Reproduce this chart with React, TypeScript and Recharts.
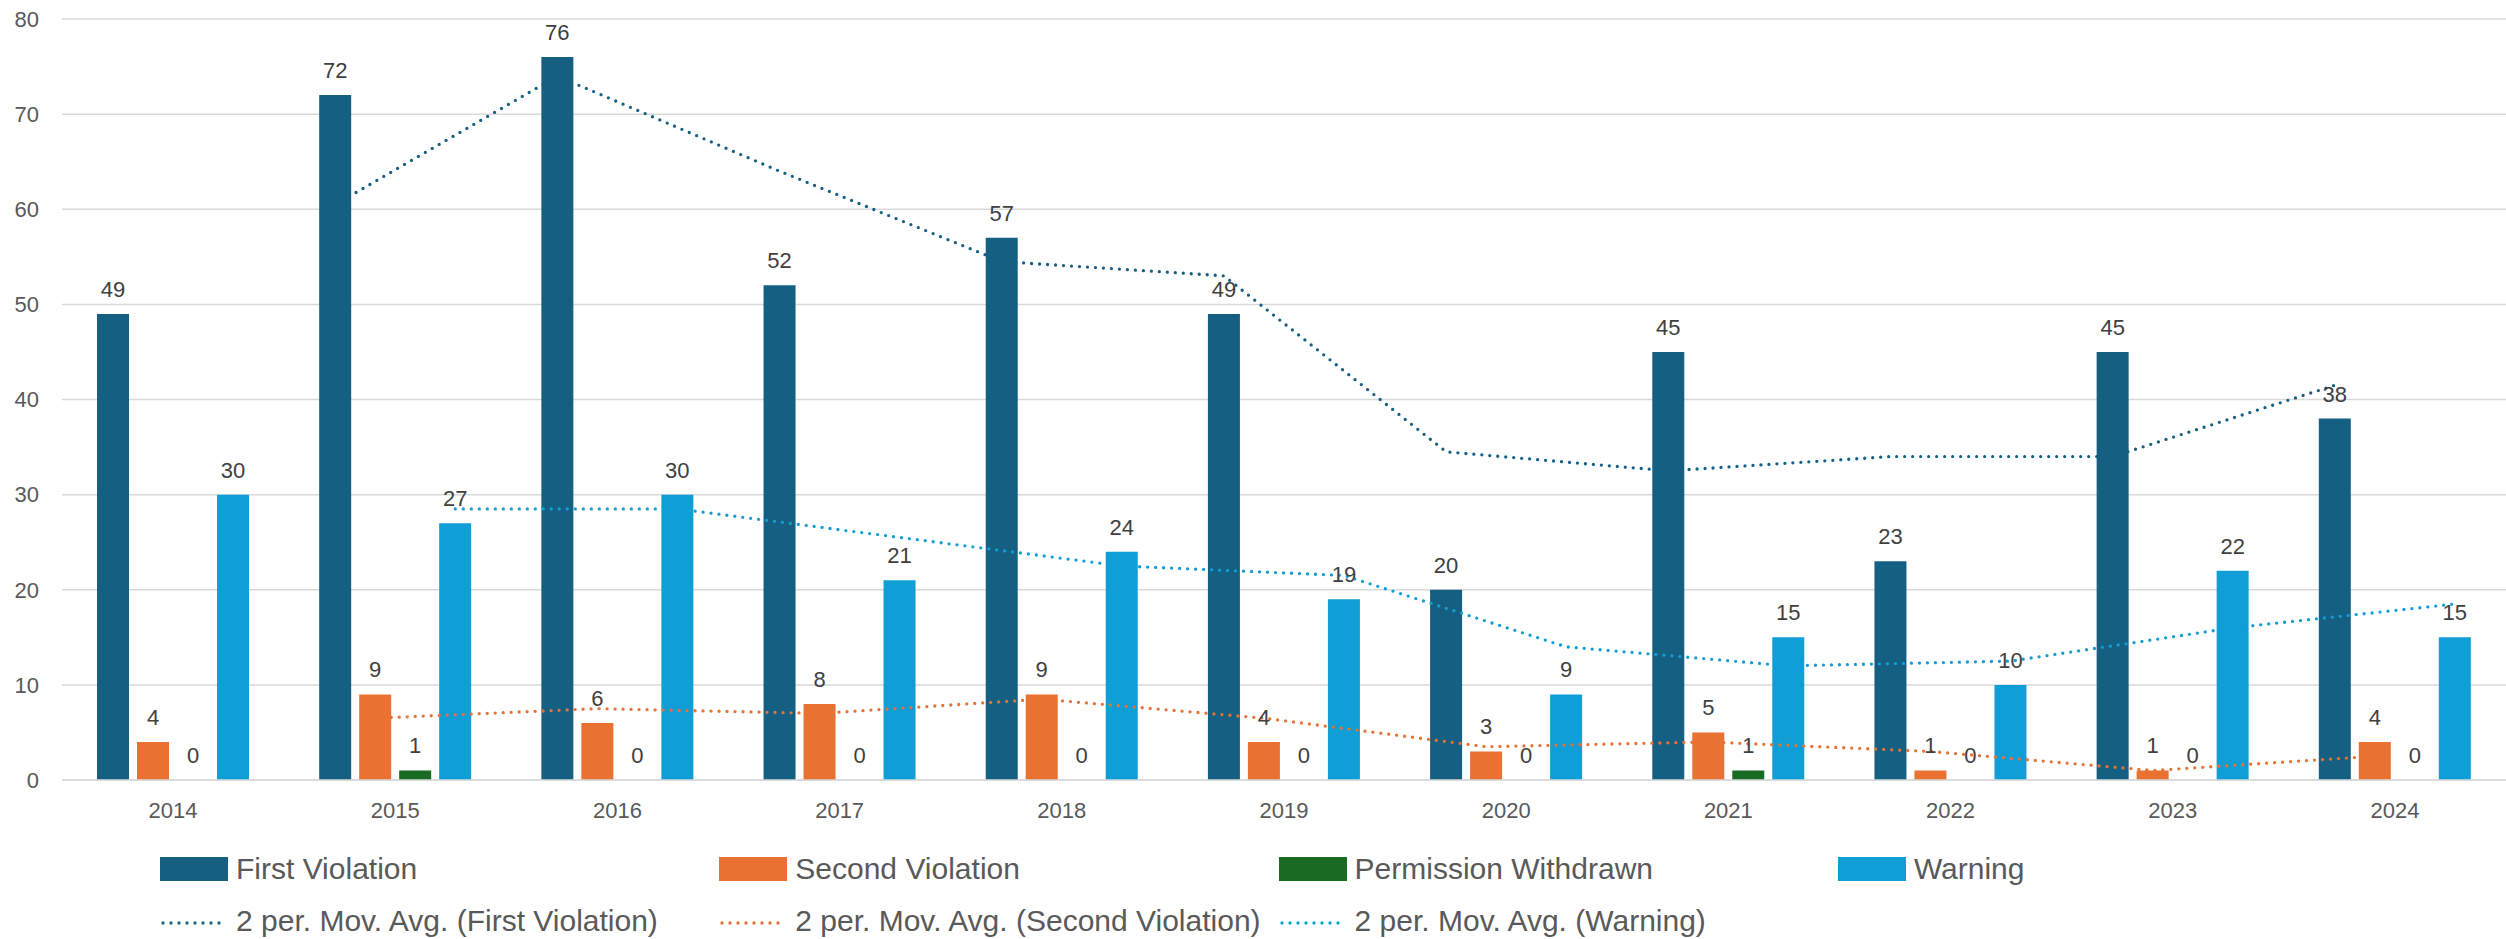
import React from 'react';
import {
  ComposedChart,
  Bar,
  Line,
  XAxis,
  YAxis,
  CartesianGrid,
  LabelList,
  Legend,
  Rectangle,
} from 'recharts';

// ---------- data ----------
const YEARS = ['2014', '2015', '2016', '2017', '2018', '2019', '2020', '2021', '2022', '2023', '2024'];
const FIRST_VIOLATION = [49, 72, 76, 52, 57, 49, 20, 45, 23, 45, 38];
const SECOND_VIOLATION = [4, 9, 6, 8, 9, 4, 3, 5, 1, 1, 4];
const PERMISSION_WITHDRAWN = [0, 1, 0, 0, 0, 0, 0, 1, 0, 0, 0];
const WARNING = [30, 27, 30, 21, 24, 19, 9, 15, 10, 22, 15];

// 2-period moving averages, 2015..2024
const MA_FIRST = [60.5, 74, 64, 54.5, 53, 34.5, 32.5, 34, 34, 41.5];
const MA_SECOND = [6.5, 7.5, 7, 8.5, 6.5, 3.5, 4, 3, 1, 2.5];
const MA_WARNING = [28.5, 28.5, 25.5, 22.5, 21.5, 14, 12, 12.5, 16, 18.5];
const MA_START_INDEX = 1;

const Y_TICKS = [0, 10, 20, 30, 40, 50, 60, 70, 80];

// ---------- style ----------
const W = 2506;
const H = 939;
const PLOT_LEFT = 62;
const BAR_SIZE = 32;
const BAR_GAP = 8;
const FONT = '"Liberation Sans", Arial, sans-serif';

const C_FIRST = '#156082';
const C_SECOND = '#E97132';
const C_PERM = '#196B24';
const C_WARN = '#0F9ED5';

const BAR_SERIES = [
  { key: 'first', name: 'First Violation', color: C_FIRST, values: FIRST_VIOLATION },
  { key: 'second', name: 'Second Violation', color: C_SECOND, values: SECOND_VIOLATION },
  { key: 'permission', name: 'Permission Withdrawn', color: C_PERM, values: PERMISSION_WITHDRAWN },
  { key: 'warning', name: 'Warning', color: C_WARN, values: WARNING },
];

const MA_SERIES = [
  { key: 'maFirst', name: '2 per. Mov. Avg. (First Violation)', color: C_FIRST, values: MA_FIRST, barIndex: 0 },
  { key: 'maSecond', name: '2 per. Mov. Avg. (Second Violation)', color: C_SECOND, values: MA_SECOND, barIndex: 1 },
  { key: 'maWarning', name: '2 per. Mov. Avg. (Warning)', color: C_WARN, values: MA_WARNING, barIndex: 3 },
];

const chartData = YEARS.map((year, i) => {
  const row: Record<string, any> = { year };
  BAR_SERIES.forEach((s) => {
    row[s.key] = s.values[i];
  });
  return row;
});

// position of each series' bar center within a category, in category units
const BAND_PX = (W - PLOT_LEFT) / YEARS.length;
const barCenterOffset = (k: number) =>
  ((k - (BAR_SERIES.length - 1) / 2) * (BAR_SIZE + BAR_GAP)) / BAND_PX;

const maData = MA_SERIES.map((s) =>
  s.values.map((v, i) => ({
    x: i + MA_START_INDEX + 0.5 + barCenterOffset(s.barIndex),
    v,
  }))
);

const DOTTED = { strokeDasharray: '0 8', strokeLinecap: 'round' as const, strokeWidth: 3.3 };

// bars with value 0 keep a tiny invisible rectangle so their "0" label is drawn
const makeShape = (key: string) => (props: any) => {
  const v = props?.payload?.[key];
  if (!v) return <g />;
  return <Rectangle {...props} />;
};

// ---------- legend ----------
const COL_START = 160;
const COL_W = 559.3;

function LegendContent() {
  return (
    <div
      style={{
        position: 'relative',
        width: W,
        height: 99,
        fontFamily: FONT,
        fontSize: 30,
        color: '#595959',
      }}
    >
      {BAR_SERIES.map((s, k) => (
        <div
          key={s.key}
          style={{
            position: 'absolute',
            left: COL_START + k * COL_W,
            top: 14,
            height: 30,
            display: 'flex',
            alignItems: 'center',
            whiteSpace: 'nowrap',
          }}
        >
          <span style={{ display: 'inline-block', width: 68, height: 24, background: s.color, marginRight: 8 }} />
          <span style={{ lineHeight: '30px' }}>{s.name}</span>
        </div>
      ))}
      {MA_SERIES.map((s, k) => (
        <div
          key={s.key}
          style={{
            position: 'absolute',
            left: COL_START + k * COL_W,
            top: 66,
            height: 30,
            display: 'flex',
            alignItems: 'center',
            whiteSpace: 'nowrap',
          }}
        >
          <svg width={68} height={30} style={{ marginRight: 8, display: 'block' }}>
            <line x1={3} y1={17} x2={66} y2={17} stroke={s.color} {...DOTTED} />
          </svg>
          <span style={{ lineHeight: '30px' }}>{s.name}</span>
        </div>
      ))}
    </div>
  );
}

export default function App() {
  return (
    <div style={{ position: 'fixed', left: 0, top: 0, width: W, height: H, background: '#fff' }}>
      <ComposedChart
        width={W}
        height={H}
        data={chartData}
        margin={{ top: 19, right: 0, bottom: 0, left: 0 }}
        barGap={BAR_GAP}
        barSize={BAR_SIZE}
      >
        <CartesianGrid vertical={false} stroke="#D9D9D9" strokeWidth={1.5} xAxisId="cat" />
        <XAxis
          xAxisId="cat"
          dataKey="year"
          interval={0}
          tickLine={false}
          axisLine={{ stroke: '#D9D9D9', strokeWidth: 1.5 }}
          tickSize={0}
          tickMargin={22}
          height={60}
          tick={{ fill: '#595959', fontSize: 22, fontFamily: FONT }}
        />
        <XAxis xAxisId="pos" type="number" dataKey="x" domain={[0, YEARS.length]} hide allowDataOverflow />
        <YAxis
          width={PLOT_LEFT}
          domain={[0, 80]}
          ticks={Y_TICKS}
          axisLine={false}
          tickLine={false}
          tickSize={0}
          tickMargin={23}
          tick={{ fill: '#595959', fontSize: 22, fontFamily: FONT }}
        />
        {BAR_SERIES.map((s) => (
          <Bar
            key={s.key}
            xAxisId="cat"
            dataKey={s.key}
            name={s.name}
            fill={s.color}
            minPointSize={0.5}
            shape={makeShape(s.key)}
            isAnimationActive={false}
          >
            <LabelList
              dataKey={s.key}
              position="top"
              offset={17}
              fill="#404040"
              fontSize={22}
              fontFamily={FONT}
            />
          </Bar>
        ))}
        {MA_SERIES.map((s, k) => (
          <Line
            key={s.key}
            xAxisId="pos"
            data={maData[k]}
            dataKey="v"
            name={s.name}
            type="linear"
            stroke={s.color}
            {...DOTTED}
            dot={false}
            activeDot={false}
            isAnimationActive={false}
            legendType="none"
          />
        ))}
        <Legend
          verticalAlign="bottom"
          align="left"
          wrapperStyle={{ left: 0, bottom: 0, width: W }}
          content={() => <LegendContent />}
        />
      </ComposedChart>
    </div>
  );
}
